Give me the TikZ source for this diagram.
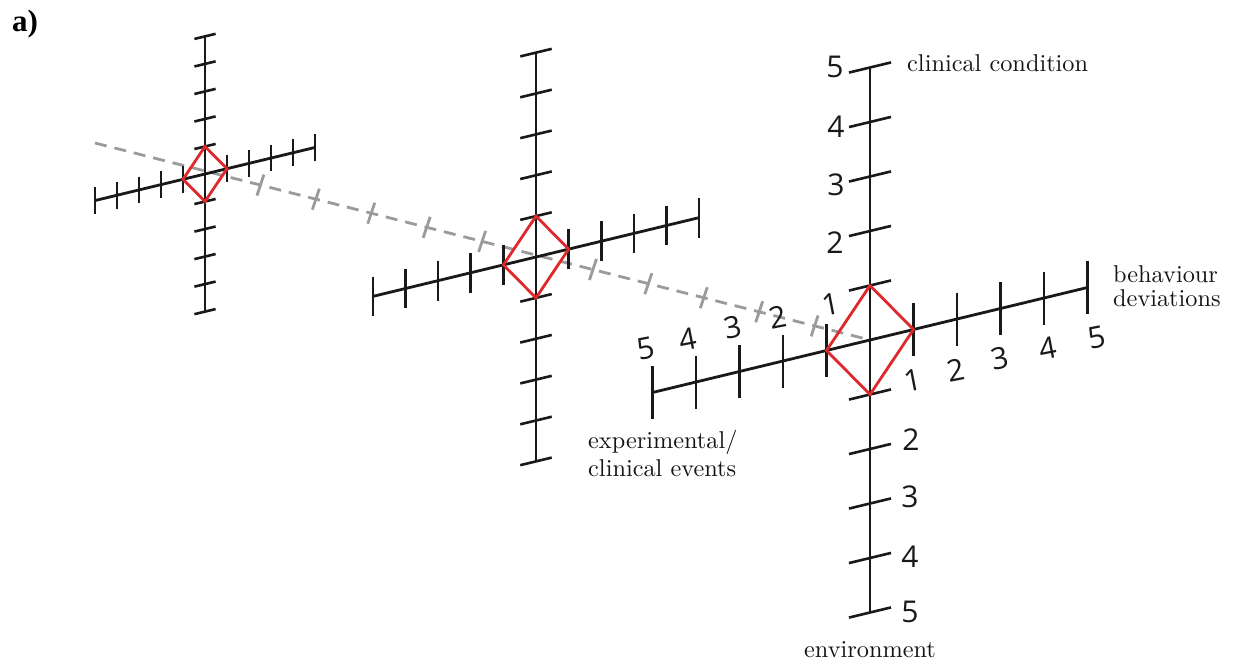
\documentclass[tikz,border=0pt]{standalone}
\usepackage{fontspec}
\newfontfamily\digitfont{Open Sans}
\newfontfamily\labelbold{Liberation Serif}
\newfontfamily\serifcap{lmroman10-regular.otf}
\definecolor{redd}{RGB}{222,40,45}
\definecolor{guidegray}{RGB}{155,155,155}
\definecolor{inkk}{RGB}{25,25,25}
\tikzset{
  axis/.style={line width=2.8pt, draw=inkk},
  tickline/.style={line width=2.6pt, draw=inkk},
  diam/.style={line width=2.8pt, draw=redd, line join=miter},
  guide/.style={line width=2.8pt, draw=guidegray, dash pattern=on 12pt off 8pt},
  guidetick/.style={line width=2.8pt, draw=guidegray},
  num/.style={font=\digitfont\fontsize{30}{31}\selectfont, inner sep=0pt, text=inkk},
  hnum/.style={num, rotate=11},
  axlabel/.style={font=\serifcap\fontsize{24.3}{28}\selectfont, inner sep=0pt, text=black!92, anchor=base west},
}
\newcommand\axischart{%
  \draw[axis] (-217.5,52.5) -- (217.5,-52.5);
  \draw[axis] (0,-272.5) -- (0,272.5);
  \foreach \k in {-5,-4,-3,-2,-1,1,2,3,4,5}{%
    \draw[tickline] ({43.5*\k},{-10.5*\k-26.5}) -- ({43.5*\k},{-10.5*\k+26.5});
    \draw[tickline] (-21,{54.5*\k+5.07}) -- (21,{54.5*\k-5.07});
  }
  \draw[diam] (0,-54.5) -- (43.5,-10.5) -- (0,54.5) -- (-43.5,10.5) -- cycle;
}
\begin{document}
\begin{tikzpicture}[x=1pt,y=-1pt]
\useasboundingbox (0,0) rectangle (1235,666);
\fill[white] (0,0) rectangle (1235,666);
\clip (0,0) rectangle (1235,666);
% guide line through the three origins
\coordinate (gstart) at (95,143);
\coordinate (gend) at (870,340);
\draw[guide] (gstart) -- (gend);
\foreach \i in {1,2,3,4,5,7,8,9,10,11}{%
  \draw[guidetick] ({205+55.42*\i-3.5},{171+14.08*\i+10.5}) -- ({205+55.42*\i+3.5},{171+14.08*\i-10.5});
}
% three charts
\begin{scope}[shift={(205,174)}, scale=0.505]\axischart\end{scope}
\begin{scope}[shift={(536,257)}, scale=0.75]\axischart\end{scope}
\begin{scope}[shift={(870,340)}, scale=1]\axischart\end{scope}
% numbers of the front chart
\foreach \t/\x/\y [count=\i] in {5/835/67,4/836/127,3/836/185,2/835/243}
  \node[num, name=vu\i] at (\x,\y) {\t};
\foreach \t/\x/\y [count=\i] in {2/911/440,3/910/497,4/910/557,5/910/612}
  \node[num, name=vd\i] at (\x,\y) {\t};
\foreach \t/\x/\y [count=\i] in {5/646/348,4/688/339,3/733/327,2/778/317,1/831/304}
  \node[hnum, name=hl\i] at (\x,\y) {\t};
\foreach \t/\x/\y [count=\i] in {1/913/380,2/956/370,3/1000/358,4/1048/348,5/1097/337}
  \node[hnum, name=hr\i] at (\x,\y) {\t};
% axis names
\node[axlabel] (cc) at (907,72) {clinical condition};
\node[axlabel] (bd1) at (1113,282) {behaviour};
\node[axlabel] (bd2) at (1113,306) {deviations};
\node[axlabel] (ex1) at (588,448) {experimental/};
\node[axlabel] (ex2) at (588,476) {clinical events};
\node[axlabel, anchor=base] (env) at (870,657) {environment};
\node[font=\labelbold\bfseries\fontsize{31}{33}\selectfont, anchor=base west, inner sep=0pt] (tag) at (12,32) {a)};
\end{tikzpicture}
\end{document}
